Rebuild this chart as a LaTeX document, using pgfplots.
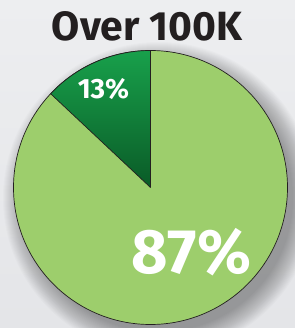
\documentclass[border=0pt]{standalone}
\usepackage{pgfplots}
\pgfplotsset{compat=1.18}
\usepackage{pgfplotstable}
\usepackage{fontspec}
\setmainfont{Fira Sans}
\definecolor{bgtop}{HTML}{EDEEF0}
\definecolor{bgbot}{HTML}{E4E5E8}
\definecolor{lightg}{HTML}{9DCE6C}
\definecolor{darkgtop}{HTML}{18A04B}
\definecolor{darkgbot}{HTML}{0A5B27}
\definecolor{outline}{HTML}{231F20}
\definecolor{titlec}{HTML}{231F20}
\pgfplotstableread{
label value
Over 87
Under 13
}\piedata
\begin{document}
\begin{tikzpicture}
\pgfplotstablegetelem{0}{value}\of\piedata \let\valA\pgfplotsretval
\pgfplotstablegetelem{1}{value}\of\piedata \let\valB\pgfplotsretval
\pgfmathsetmacro\angB{90+3.6*\valB}
\path[use as bounding box] (0,0) rectangle (295bp,328bp);
\shade[top color=bgtop, bottom color=bgbot] (0,0) rectangle (295bp,328bp);
\begin{scope}
\clip (0,0) rectangle (295bp,328bp);
\foreach \k in {0,...,22}{
  \fill[black, opacity=0.017] (159bp,130bp) circle ({(134+\k)*1bp});
}
\end{scope}
\begin{axis}[
  at={(0,0)}, anchor=south west,
  scale only axis, width=295bp, height=328bp,
  xmin=0, xmax=295, ymin=0, ymax=328,
  hide axis, clip=false]
\filldraw[fill=lightg, draw=outline, line width=0.7bp] (axis cs:150.5,140.5) circle[radius=137bp];
\shade[top color=darkgtop, bottom color=darkgbot] (axis cs:150.5,140.5) -- ++(0,137bp) arc[start angle=90, end angle=\angB, radius=137bp] -- cycle;
\draw[outline, line width=0.7bp, line join=round] (axis cs:150.5,140.5) -- ++(0,137bp) arc[start angle=90, end angle=\angB, radius=137bp] -- cycle;
\node[text=white, font=\bfseries\fontsize{28}{28}\selectfont] at (axis cs:103.5,238.5) {\valB\%};
\node[text=white, font=\bfseries\fontsize{63}{63}\selectfont] at (axis cs:191.5,75.5) {\valA\%};
\node[text=titlec, font=\bfseries\fontsize{41}{41}\selectfont] at (axis cs:147,302) {Over 100K};
\end{axis}
\end{tikzpicture}
\end{document}
